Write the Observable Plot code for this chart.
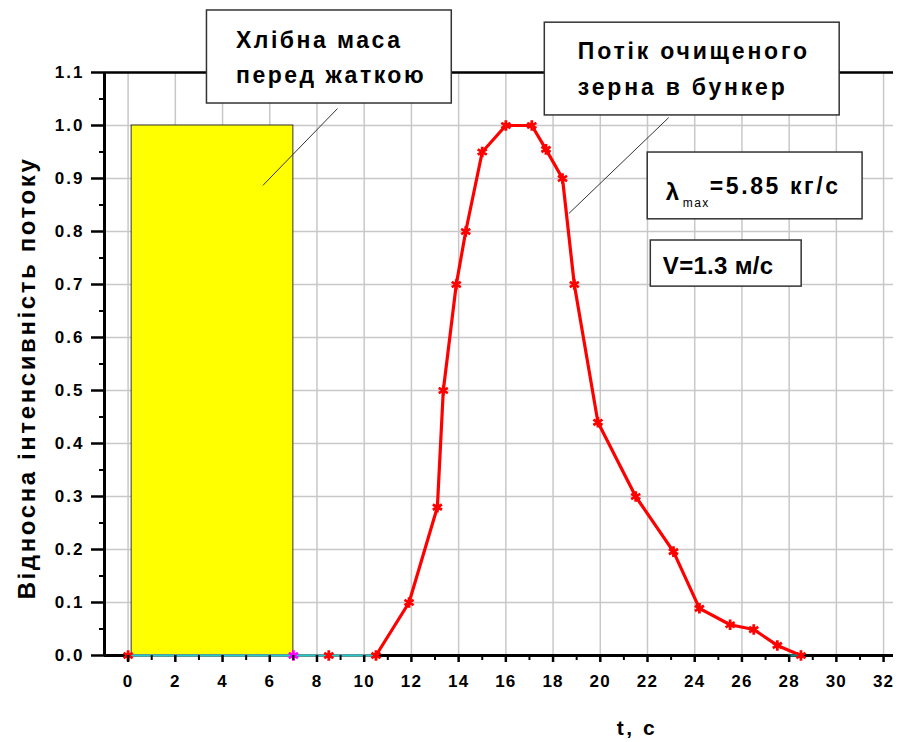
<!DOCTYPE html>
<html>
<head>
<meta charset="utf-8">
<script src="https://cdn.jsdelivr.net/npm/d3@7"></script>
<script src="https://cdn.jsdelivr.net/npm/@observablehq/plot@0.6"></script>
<style>
  html, body { margin: 0; padding: 0; background: #fff; }
  #chart svg { display: block; }
</style>
</head>
<body>
<div id="chart"></div>
<script>
// ---- data ----
const flowT = [0, 7.0, 8.5, 10.5, 11.9, 13.1, 13.35, 13.9, 14.3, 15.0, 16.0, 17.1, 17.7, 18.4, 18.9, 19.9, 21.5, 23.1, 24.2, 25.5, 26.5, 27.5, 28.5];
const flowV = [0, 0, 0, 0, 0.10, 0.28, 0.50, 0.70, 0.80, 0.95, 1.00, 1.00, 0.955, 0.90, 0.70, 0.44, 0.30, 0.196, 0.089, 0.058, 0.049, 0.019, 0];
const massT = [0.15, 7.0];      // grain mass in front of the header (yellow block)
const massV = [1.0];
const baseT1 = [0.15, 10.5];    // cyan baseline segments
const baseT2 = [28.0, 28.5];
const xMajor = d3.range(0, 33, 2);
const xMinor = d3.range(1, 33, 2);
const yMajor = [0, 0.1, 0.2, 0.3, 0.4, 0.5, 0.6, 0.7, 0.8, 0.9, 1.0, 1.1];
const yMinor = [0.05, 0.15, 0.25, 0.35, 0.45, 0.55, 0.65, 0.75, 0.85, 0.95, 1.05];

// annotation boxes (data coordinates)
const boxX1 = [3.34, 17.65, 22.01, 22.14];
const boxX2 = [13.71, 30.14, 31.11, 28.53];
const boxY1 = [1.0415, 1.019, 0.823, 0.696];
const boxY2 = [1.217, 1.194, 0.949, 0.783];
const noteTexts = ["Хлібна маса\nперед жаткою", "Потік очищеного\nзерна в бункер", "λmax=5.85 кг/с", "V=1.3 м/с"];
const noteTx = [4.57, 19.05, 22.77, 22.65];
const noteTy = [1.135, 1.113, 0.881, 0.742];
const noteSize = [23, 23, 23, 24];
const noteSpacing = [2.5, 2.8, 2.6, 0.3];
const leaderX1 = [8.87, 22.9];
const leaderY1 = [1.032, 1.015];
const leaderX2 = [5.71, 18.67];
const leaderY2 = [0.887, 0.834];

const flow = flowT.map((t, i) => ({t, v: flowV[i]}));
const boxes = boxX1.map((x1, i) => ({x1, x2: boxX2[i], y1: boxY1[i], y2: boxY2[i]}));
const notes = noteTexts.map((s, i) => ({s, x: noteTx[i], y: noteTy[i], size: noteSize[i], ls: noteSpacing[i]}));
const leaders = leaderX1.map((x1, i) => ({x1, y1: leaderY1[i], x2: leaderX2[i], y2: leaderY2[i]}));

const FONT = "'Liberation Sans', Arial, sans-serif";
const W = 898, H = 742;
const chart = Plot.plot({
  width: W, height: H,
  marginLeft: 104, marginRight: 5, marginTop: 72, marginBottom: 87,
  style: {fontFamily: FONT, background: "#fff", overflow: "visible"},
  x: {domain: [-1, 32.42]},
  y: {domain: [0, 1.1]},
  marks: [
    Plot.gridX(xMajor, {stroke: "#c8c8c8", strokeOpacity: 1, strokeWidth: 1.5}),
    Plot.gridY(yMajor, {stroke: "#c8c8c8", strokeOpacity: 1, strokeWidth: 1.5}),
    Plot.rect([{x1: massT[0], x2: massT[1], y2: massV[0]}], {x1: "x1", x2: "x2", y1: 0, y2: "y2", fill: "#ffff00", stroke: "#333", strokeWidth: 1}),
    Plot.ruleY([1.1], {stroke: "#000", strokeWidth: 2.5}),
    Plot.ruleY([0], {stroke: "#000", strokeWidth: 3}),
    Plot.ruleX([-1], {y1: 0, y2: 1.1, stroke: "#000", strokeWidth: 3}),
    Plot.line(flow, {x: "t", y: "v", stroke: "#ff0000", strokeWidth: 3.2}),
    Plot.line(baseT1, {x: d => d, y: 0, stroke: "#22cccc", strokeWidth: 2.5}),
    Plot.line(baseT2, {x: d => d, y: 0, stroke: "#208080", strokeWidth: 2.5}),
    Plot.dot(flow, {x: "t", y: "v", symbol: "asterisk", r: 5, stroke: d => d.t === 7 ? "#ff00ff" : "#ff0000", strokeWidth: 2.8}),
    Plot.axisX(xMajor, {tickSize: 7, tickPadding: 12, fontSize: 17, fontWeight: "bold", strokeWidth: 2.5, label: null, tickFormat: d => String(d)}),
    Plot.axisX(xMinor, {tickSize: 5, strokeWidth: 2, text: null, label: null}),
    Plot.axisY(yMajor, {tickSize: 13, tickPadding: 7, fontSize: 17, fontWeight: "bold", strokeWidth: 2.5, label: null, tickFormat: d => d.toFixed(1)}),
    Plot.axisY(yMinor, {tickSize: 5, strokeWidth: 2, text: null, label: null}),
    Plot.link(leaders, {x1: "x1", y1: "y1", x2: "x2", y2: "y2", stroke: "#333", strokeWidth: 1}),
    Plot.rect(boxes, {x1: "x1", x2: "x2", y1: "y1", y2: "y2", fill: "#fff", stroke: "#333", strokeWidth: 1.5}),
    Plot.text(notes, {x: "x", y: "y", text: "s", textAnchor: "start", lineAnchor: "middle", lineHeight: 1.55, fontSize: "size", fontWeight: "bold", fill: "#000"})
  ]
});

const svg = d3.select(chart);
// letter spacing for tick labels (reference glyphs are wide)
svg.selectAll("g[aria-label='y-axis tick label'] text").attr("letter-spacing", 2);
svg.selectAll("g[aria-label='x-axis tick label'] text").attr("letter-spacing", 1.2);
// letter spacing for annotation text
svg.selectAll("g[aria-label='text'] text").each(function() {
  const s = this.textContent;
  const n = notes.find(d => d.s.replace("\n", "") === s) || notes.find(d => s.startsWith(d.s.split("\n")[0]));
  if (n) d3.select(this).attr("letter-spacing", n.ls);
});
// subscript for λmax
svg.selectAll("text").filter(function() { return this.textContent === "λmax=5.85 кг/с"; }).each(function() {
  const t = d3.select(this);
  t.text(null);
  t.append("tspan").text("λ").attr("font-size", 24);
  t.append("tspan").text("max").attr("font-size", 12).attr("font-weight", "normal").attr("letter-spacing", 1.5).attr("dy", "0.55em").attr("dx", "1");
  t.append("tspan").text("=5.85 кг/с").attr("dy", "-0.55em").attr("dx", "0");
});
// axis titles
svg.append("text")
  .attr("transform", "translate(35,378) rotate(-90)")
  .attr("text-anchor", "middle")
  .attr("font-size", 24).attr("font-weight", "bold")
  .attr("letter-spacing", 2.6)
  .attr("font-family", FONT)
  .text("Відносна інтенсивність потоку");
svg.append("text")
  .attr("x", 637).attr("y", 735)
  .attr("text-anchor", "middle")
  .attr("font-size", 21).attr("font-weight", "bold")
  .attr("letter-spacing", 2.5)
  .attr("font-family", FONT)
  .text("t, с");

document.getElementById("chart").appendChild(chart);
</script>
</body>
</html>
